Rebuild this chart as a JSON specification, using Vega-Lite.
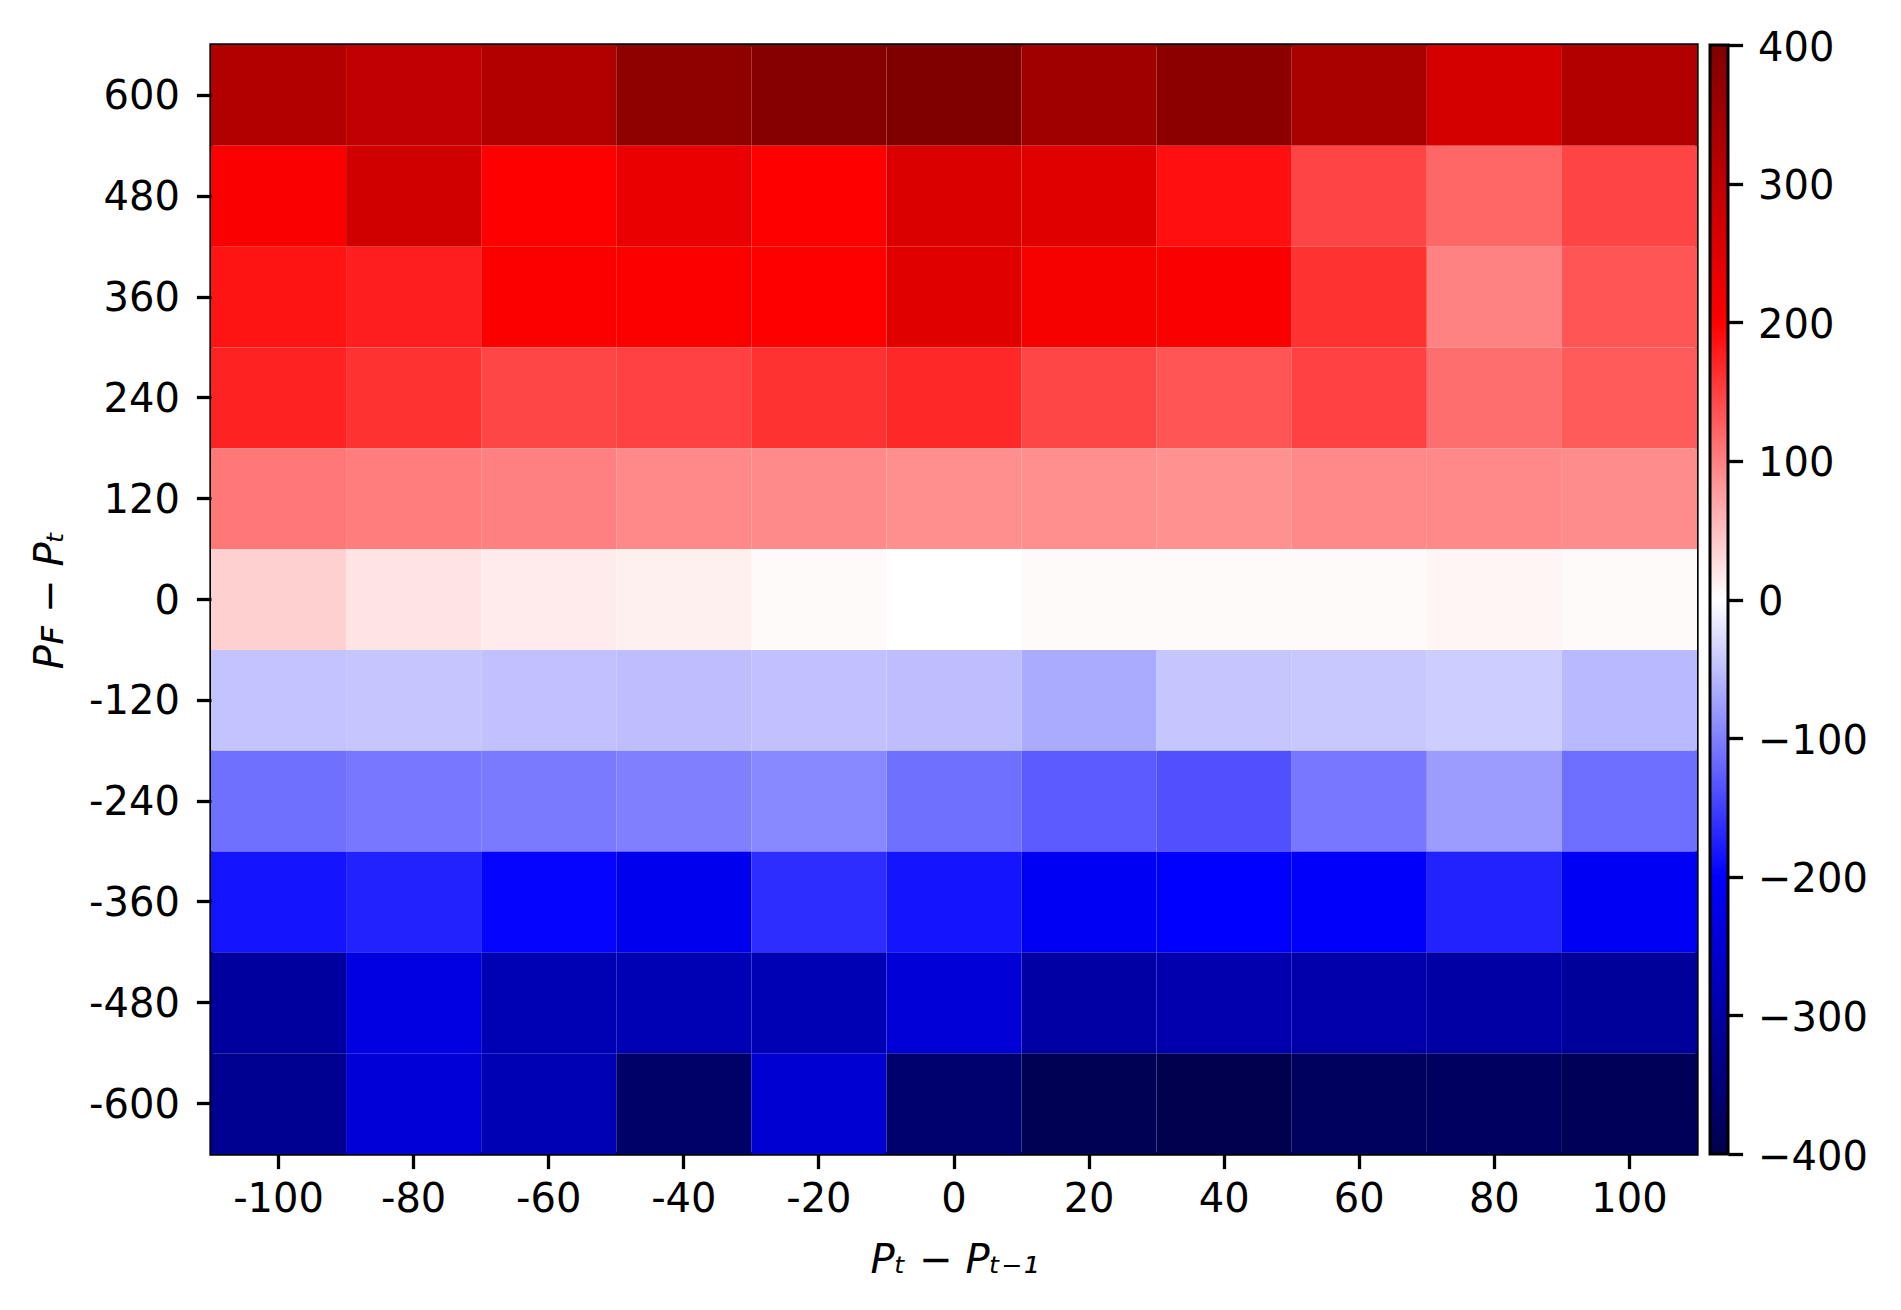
{
  "$schema": "https://vega.github.io/schema/vega-lite/v6.json",
  "width": 1486,
  "height": 1109,
  "autosize": {"type": "none"},
  "padding": {"left": 211, "top": 45, "right": 204, "bottom": 156},
  "background": "white",
  "config": {
    "view": {"stroke": "black", "strokeWidth": 3.3},
    "axis": {
      "labelFont": "DejaVu Sans", "labelFontSize": 40, "labelColor": "black",
      "tickColor": "black", "tickWidth": 3.3, "tickSize": 14.6,
      "domain": false, "grid": false,
      "titleFont": "DejaVu Sans", "titleFontSize": 40, "titleFontStyle": "italic",
      "titleFontWeight": "normal", "titleColor": "black"
    },
    "legend": {
      "padding": 0, "gradientLength": 1109, "gradientThickness": 18,
      "gradientStrokeColor": "black", "gradientStrokeWidth": 3,
      "labelOpacity": 0, "labelFontSize": 1
    }
  },
  "data": {"values": [
    {"x": -100, "y": 600, "v": 321}, {"x": -80, "y": 600, "v": 299}, {"x": -60, "y": 600, "v": 321}, {"x": -40, "y": 600, "v": 377}, {"x": -20, "y": 600, "v": 391}, {"x": 0, "y": 600, "v": 400}, {"x": 20, "y": 600, "v": 349}, {"x": 40, "y": 600, "v": 380}, {"x": 60, "y": 600, "v": 336}, {"x": 80, "y": 600, "v": 267}, {"x": 100, "y": 600, "v": 321},
    {"x": -100, "y": 480, "v": 208}, {"x": -80, "y": 480, "v": 274}, {"x": -60, "y": 480, "v": 200}, {"x": -40, "y": 480, "v": 233}, {"x": -20, "y": 480, "v": 200}, {"x": 0, "y": 480, "v": 258}, {"x": 20, "y": 480, "v": 249}, {"x": 40, "y": 480, "v": 188}, {"x": 60, "y": 480, "v": 147}, {"x": 80, "y": 480, "v": 120}, {"x": 100, "y": 480, "v": 147},
    {"x": -100, "y": 360, "v": 184}, {"x": -80, "y": 360, "v": 176}, {"x": -60, "y": 360, "v": 205}, {"x": -40, "y": 360, "v": 205}, {"x": -20, "y": 360, "v": 200}, {"x": 0, "y": 360, "v": 247}, {"x": 20, "y": 360, "v": 212}, {"x": 40, "y": 360, "v": 208}, {"x": 60, "y": 360, "v": 161}, {"x": 80, "y": 360, "v": 98}, {"x": 100, "y": 360, "v": 133},
    {"x": -100, "y": 240, "v": 173}, {"x": -80, "y": 240, "v": 161}, {"x": -60, "y": 240, "v": 145}, {"x": -40, "y": 240, "v": 149}, {"x": -20, "y": 240, "v": 161}, {"x": 0, "y": 240, "v": 169}, {"x": 20, "y": 240, "v": 145}, {"x": 40, "y": 240, "v": 133}, {"x": 60, "y": 240, "v": 149}, {"x": 80, "y": 240, "v": 114}, {"x": 100, "y": 240, "v": 129},
    {"x": -100, "y": 120, "v": 106}, {"x": -80, "y": 120, "v": 102}, {"x": -60, "y": 120, "v": 100}, {"x": -40, "y": 120, "v": 93}, {"x": -20, "y": 120, "v": 92}, {"x": 0, "y": 120, "v": 89}, {"x": 20, "y": 120, "v": 89}, {"x": 40, "y": 120, "v": 86}, {"x": 60, "y": 120, "v": 93}, {"x": 80, "y": 120, "v": 93}, {"x": 100, "y": 120, "v": 90},
    {"x": -100, "y": 0, "v": 37}, {"x": -80, "y": 0, "v": 21}, {"x": -60, "y": 0, "v": 16}, {"x": -40, "y": 0, "v": 12}, {"x": -20, "y": 0, "v": 4}, {"x": 0, "y": 0, "v": 0}, {"x": 20, "y": 0, "v": 4}, {"x": 40, "y": 0, "v": 4}, {"x": 60, "y": 0, "v": 4}, {"x": 80, "y": 0, "v": 8}, {"x": 100, "y": 0, "v": 4},
    {"x": -100, "y": -120, "v": -47}, {"x": -80, "y": -120, "v": -45}, {"x": -60, "y": -120, "v": -49}, {"x": -40, "y": -120, "v": -51}, {"x": -20, "y": -120, "v": -49}, {"x": 0, "y": -120, "v": -51}, {"x": 20, "y": -120, "v": -67}, {"x": 40, "y": -120, "v": -45}, {"x": 60, "y": -120, "v": -43}, {"x": 80, "y": -120, "v": -39}, {"x": 100, "y": -120, "v": -55},
    {"x": -100, "y": -240, "v": -112}, {"x": -80, "y": -240, "v": -107}, {"x": -60, "y": -240, "v": -104}, {"x": -40, "y": -240, "v": -100}, {"x": -20, "y": -240, "v": -93}, {"x": 0, "y": -240, "v": -112}, {"x": 20, "y": -240, "v": -129}, {"x": 40, "y": -240, "v": -137}, {"x": 60, "y": -240, "v": -107}, {"x": 80, "y": -240, "v": -78}, {"x": 100, "y": -240, "v": -114},
    {"x": -100, "y": -360, "v": -184}, {"x": -80, "y": -360, "v": -173}, {"x": -60, "y": -360, "v": -196}, {"x": -40, "y": -360, "v": -218}, {"x": -20, "y": -360, "v": -165}, {"x": 0, "y": -360, "v": -184}, {"x": 20, "y": -360, "v": -213}, {"x": 40, "y": -360, "v": -200}, {"x": 60, "y": -360, "v": -204}, {"x": 80, "y": -360, "v": -173}, {"x": 100, "y": -360, "v": -211},
    {"x": -100, "y": -480, "v": -307}, {"x": -80, "y": -480, "v": -234}, {"x": -60, "y": -480, "v": -284}, {"x": -40, "y": -480, "v": -284}, {"x": -20, "y": -480, "v": -284}, {"x": 0, "y": -480, "v": -245}, {"x": 20, "y": -480, "v": -301}, {"x": 40, "y": -480, "v": -290}, {"x": 60, "y": -480, "v": -295}, {"x": 80, "y": -480, "v": -301}, {"x": 100, "y": -480, "v": -312},
    {"x": -100, "y": -600, "v": -323}, {"x": -80, "y": -600, "v": -245}, {"x": -60, "y": -600, "v": -284}, {"x": -40, "y": -600, "v": -368}, {"x": -20, "y": -600, "v": -250}, {"x": 0, "y": -600, "v": -362}, {"x": 20, "y": -600, "v": -390}, {"x": 40, "y": -600, "v": -398}, {"x": 60, "y": -600, "v": -379}, {"x": 80, "y": -600, "v": -376}, {"x": 100, "y": -600, "v": -385}
  ]},
  "layer": [
    {
      "mark": {"type": "rect"},
      "encoding": {
        "x": {
          "field": "x", "type": "ordinal", "sort": "ascending",
          "scale": {"paddingInner": 0, "paddingOuter": 0},
          "axis": {"labelAngle": 0, "labelPadding": 11, "title": "Pₜ − Pₜ₋₁", "titleY": 86, "titleBaseline": "top"}
        },
        "y": {
          "field": "y", "type": "ordinal", "sort": "descending",
          "scale": {"paddingInner": 0, "paddingOuter": 0},
          "axis": {"labelPadding": 17, "labelOffset": 2, "title": "Pꜰ − Pₜ", "titleX": -149, "titleBaseline": "alphabetic"}
        },
        "color": {
          "field": "v", "type": "quantitative",
          "scale": {
            "type": "linear",
            "domain": [-400, -200, 0, 200, 400],
            "range": ["#00004c", "#0000ff", "#ffffff", "#ff0000", "#800000"],
            "interpolate": "rgb"
          },
          "legend": {
            "title": null, "orient": "none", "legendX": 1499, "legendY": 0,
            "direction": "vertical",
            "values": [-400, 0, 400]
          }
        }
      }
    },
    {
      "mark": {"type": "point", "opacity": 0},
      "encoding": {
        "x": {"field": "x", "type": "ordinal", "sort": "ascending"},
        "y": {
          "field": "v", "type": "quantitative",
          "scale": {"domain": [-400, 400], "nice": false, "zero": false},
          "axis": {
            "orient": "right", "offset": 31, "title": null,
            "values": [-400, -300, -200, -100, 0, 100, 200, 300, 400],
            "labelPadding": 15, "labelFlush": false, "labelOffset": 3,
            "labelBaseline": "middle"
          }
        }
      }
    }
  ],
  "resolve": {"scale": {"y": "independent"}, "axis": {"y": "independent"}}
}
